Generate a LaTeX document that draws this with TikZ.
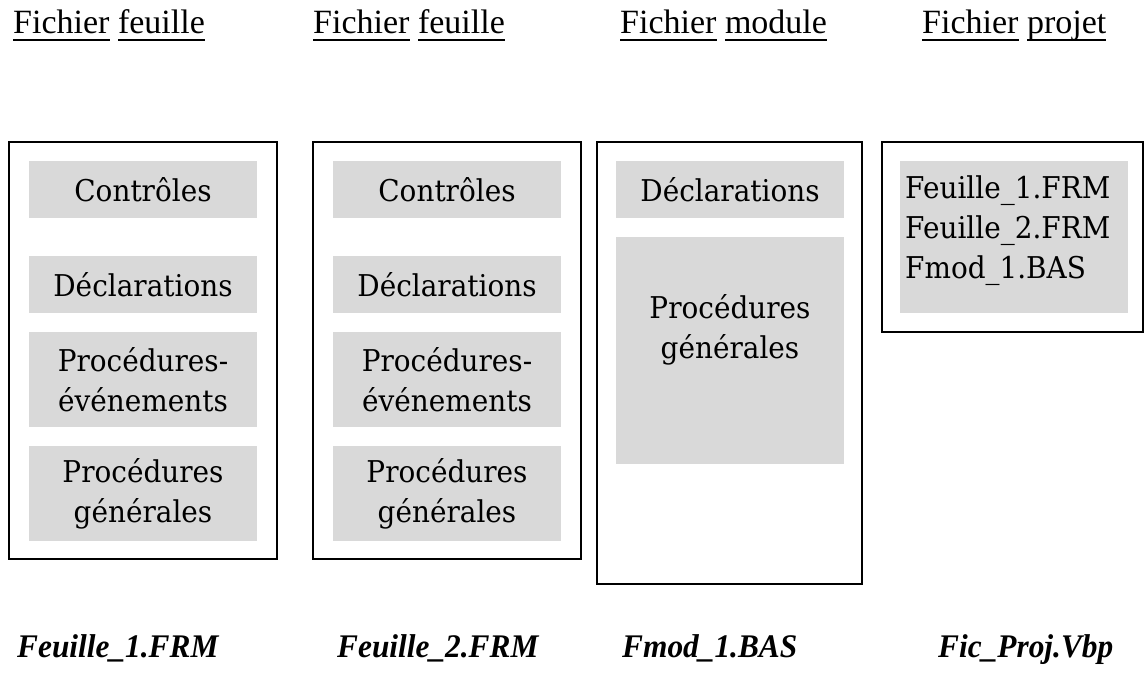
\documentclass[tikz,border=0pt]{standalone}
\usepackage{fontspec}
\setmainfont{Liberation Serif}
\newfontfamily\boxfont[FakeStretch=0.93]{DejaVu Serif}
\newfontfamily\nomfont[FakeStretch=0.95]{Liberation Serif}
\usepackage{tikz}
\usetikzlibrary{positioning}
\newcommand{\souligne}[1]{\setbox0\hbox{#1}\rlap{\rule[-0.2em]{\wd0}{0.06em}}\box0\relax}

\begin{document}
\begin{tikzpicture}[
  x=1bp, y=-1bp,
  cadre/.style={draw, line width=2bp, minimum width=268bp, minimum height=417bp, inner sep=0pt},
  zone/.style={fill=black!15, align=center, minimum width=228bp, inner sep=0pt,
               font=\boxfont\fontsize{30bp}{40bp}\selectfont},
  titre/.style={anchor=base west, inner sep=0pt, font=\fontsize{34bp}{40bp}\selectfont},
  nomfic/.style={anchor=base west, inner sep=0pt,
                 font=\nomfont\fontsize{33bp}{38bp}\selectfont\bfseries\itshape}
]
\useasboundingbox (0,0) rectangle (1145,675);

% Titres
\node[titre] (t1) at (13,34)  {\souligne{Fichier} \souligne{feuille}};
\node[titre] (t2) at (313,34) {\souligne{Fichier} \souligne{feuille}};
\node[titre] (t3) at (620,34) {\souligne{Fichier} \souligne{module}};
\node[titre] (t4) at (922,34) {\souligne{Fichier} \souligne{projet}};

% Feuille 1
\node[cadre] (f1) at (143,350.5) {};
\node[zone, minimum height=57bp] (f1ctl) at (143,189.5) {Contrôles};
\node[zone, minimum height=57bp] (f1dec) at (143,284.5) {Déclarations};
\node[zone, minimum height=95bp] (f1evt) at (143,379.5) {Procédures-\\événements};
\node[zone, minimum height=95bp] (f1gen) at (143,493.5) {Procédures\\générales};

% Feuille 2
\node[cadre] (f2) at (447,350.5) {};
\node[zone, minimum height=57bp] (f2ctl) at (447,189.5) {Contrôles};
\node[zone, minimum height=57bp] (f2dec) at (447,284.5) {Déclarations};
\node[zone, minimum height=95bp] (f2evt) at (447,379.5) {Procédures-\\événements};
\node[zone, minimum height=95bp] (f2gen) at (447,493.5) {Procédures\\générales};

% Module
\node[cadre, minimum width=265bp, minimum height=442bp] (mod) at (729.5,363) {};
\node[zone, minimum height=57bp] (moddec) at (730,189.5) {Déclarations};
\node[zone, minimum height=227bp] (modgen) at (730,350.5) {};
\node[zone, fill=none, anchor=north] (modtxt) at (modgen.north) [yshift=-58bp] {Procédures\\générales};

% Projet
\node[cadre, minimum width=261bp, minimum height=190bp] (prj) at (1012.5,237) {};
\node[zone, minimum height=152bp] (prjlst) at (1014,237) {};
\node[zone, fill=none, align=left, anchor=north west, minimum width=0pt]
  (prjtxt) at (905,176) {Feuille\_1.FRM\\Feuille\_2.FRM\\Fmod\_1.BAS};

% Noms de fichiers
\node[nomfic] (n1) at (17,657)  {Feuille\_1.FRM};
\node[nomfic] (n2) at (337,657) {Feuille\_2.FRM};
\node[nomfic] (n3) at (622,657) {Fmod\_1.BAS};
\node[nomfic] (n4) at (938,657) {Fic\_Proj.Vbp};
\end{tikzpicture}
\end{document}
